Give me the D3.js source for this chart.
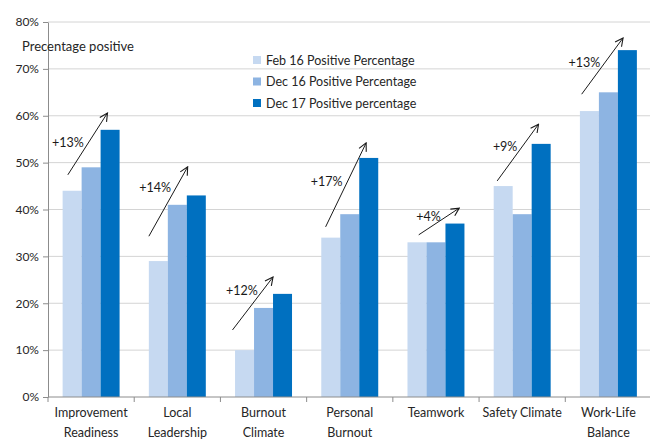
<!DOCTYPE html>
<html>
<head>
<meta charset="utf-8">
<script src="https://cdn.jsdelivr.net/npm/d3@7"></script>
<style>
  html, body { margin: 0; padding: 0; background: #fff; }
  svg { display: block; font-family: Lato, "Open Sans", sans-serif; }
</style>
</head>
<body>
<svg id="chart" width="650" height="441"></svg>
<script>
// Survey categories (two-line labels)
const categories = [
  ["Improvement", "Readiness"],
  ["Local", "Leadership"],
  ["Burnout", "Climate"],
  ["Personal", "Burnout"],
  ["Teamwork"],
  ["Safety Climate"],
  ["Work-Life", "Balance"]
];
const seriesNames = ["Feb 16 Positive Percentage", "Dec 16 Positive Percentage", "Dec 17 Positive percentage"];
const feb16 = [44, 29, 10, 34, 33, 45, 61];
const dec16 = [49, 41, 19, 39, 33, 39, 65];
const dec17 = [57, 43, 22, 51, 37, 54, 74];
const yTicks = [0, 10, 20, 30, 40, 50, 60, 70, 80];

// Change annotations: label, arrow start / end level (in %)
const changeLabels = ["+13%", "+14%", "+12%", "+17%", "+4%", "+9%", "+13%"];
const arrowFrom = [47.4, 34.3, 14.3, 36.3, 34.6, 46.1, 64.6];
const arrowTo   = [60.6, 49.1, 25.6, 54.2, 40.3, 58.2, 76.6];

const colors = ["#c6d9f1", "#8db4e2", "#0070c0"];
const series = [feb16, dec16, dec17];

const svg = d3.select("#chart");
const margin = { left: 48, right: 0, top: 22, bottom: 44 };
const width = 651.5, height = 441;

const x = d3.scaleBand().domain(d3.range(categories.length)).range([margin.left, width]).paddingInner(0).paddingOuter(0);
const inner = d3.scaleBand().domain(d3.range(series.length)).range([0, x.bandwidth()]).paddingOuter(0.77).paddingInner(0);
const y = d3.scaleLinear().domain([0, 80]).range([height - margin.bottom, margin.top]);

// Gridlines
svg.append("g")
  .selectAll("line").data(yTicks.filter(d => d > 0)).join("line")
  .attr("x1", margin.left).attr("x2", 650)
  .attr("y1", d => y(d)).attr("y2", d => y(d))
  .attr("stroke", "#d4d4d4").attr("stroke-width", 1);

// Bars
const groups = svg.append("g").selectAll("g").data(categories).join("g")
  .attr("transform", (d, i) => `translate(${x(i)},0)`);
groups.selectAll("rect")
  .data((d, i) => series.map((s, k) => ({ k, v: s[i] })))
  .join("rect")
  .attr("x", d => inner(d.k))
  .attr("width", inner.bandwidth())
  .attr("y", d => y(d.v))
  .attr("height", d => y(0) - y(d.v))
  .attr("fill", d => colors[d.k]);

// Y axis
const yAxis = svg.append("g")
  .attr("transform", `translate(${margin.left},0)`)
  .call(d3.axisLeft(y).tickValues(yTicks).tickFormat(d => d + "%").tickSize(5).tickSizeOuter(0));
yAxis.select(".domain").attr("stroke", "#8c8c8c");
yAxis.selectAll(".tick line").attr("stroke", "#8c8c8c");
yAxis.selectAll(".tick text").attr("fill", "#262626").attr("font-size", 12).attr("x", -9)
  .attr("font-family", "Lato, sans-serif");

// X axis with ticks at category boundaries
const xAxisG = svg.append("g").attr("transform", `translate(0,${y(0)})`);
xAxisG.append("line").attr("x1", margin.left).attr("x2", 650).attr("y1", 0).attr("y2", 0)
  .attr("stroke", "#8c8c8c");
xAxisG.selectAll("line.tk").data(d3.range(categories.length + 1)).join("line")
  .attr("class", "tk")
  .attr("x1", i => margin.left + i * x.step()).attr("x2", i => margin.left + i * x.step())
  .attr("y1", 0).attr("y2", 5).attr("stroke", "#8c8c8c");
const xl = xAxisG.selectAll("text").data(categories).join("text")
  .attr("text-anchor", "middle")
  .attr("font-size", 12.5)
  .attr("fill", "#262626")
  .attr("transform", (d, i) => `translate(${x(i) + x.bandwidth() / 2},0)`);
xl.selectAll("tspan").data(d => d).join("tspan")
  .attr("x", 0).attr("y", (d, j) => 20 + j * 20)
  .text(d => d);

// Axis title
svg.append("text").attr("x", 22).attr("y", 51)
  .attr("font-size", 13).attr("fill", "#262626")
  .text("Precentage positive");

// Legend
const legend = svg.append("g").attr("transform", "translate(253,60)");
const li = legend.selectAll("g").data(seriesNames).join("g")
  .attr("transform", (d, i) => `translate(0,${i * 21.5})`);
li.append("rect").attr("x", 0).attr("y", -4).attr("width", 8).attr("height", 8)
  .attr("fill", (d, i) => colors[i]);
li.append("text").attr("x", 13).attr("y", 4.5).attr("font-size", 12.5).attr("fill", "#262626")
  .text(d => d);

// Change arrows
svg.append("defs").append("marker")
  .attr("id", "head").attr("viewBox", "0 0 10 10").attr("refX", 9).attr("refY", 5)
  .attr("markerWidth", 10).attr("markerHeight", 10).attr("markerUnits", "userSpaceOnUse")
  .attr("orient", "auto")
  .append("path").attr("d", "M1,1 L9,5 L1,9").attr("fill", "none").attr("stroke", "#1a1a1a").attr("stroke-width", 1.1);

const arrowStart = [0.23, 0.17, 0.14, 0.22, 0.30, 0.21, 0.19];
const arrowEnd   = [0.69, 0.62, 0.61, 0.69, 0.77, 0.69, 0.67];
const labelAt    = [0.53, 0.70, 0.75, 0.54, 0.67, 0.61, 0.57];

const ann = svg.append("g").selectAll("g").data(changeLabels).join("g");
ann.append("line")
  .attr("x1", (d, i) => x(i) + arrowStart[i] * x.bandwidth())
  .attr("y1", (d, i) => y(arrowFrom[i]))
  .attr("x2", (d, i) => x(i) + arrowEnd[i] * x.bandwidth())
  .attr("y2", (d, i) => y(arrowTo[i]))
  .attr("stroke", "#1a1a1a").attr("stroke-width", 1)
  .attr("marker-end", "url(#head)");
ann.append("text")
  .attr("text-anchor", "end").attr("font-size", 12.5).attr("fill", "#1a1a1a")
  .attr("x", (d, i) => {
    const x1 = x(i) + arrowStart[i] * x.bandwidth(), x2 = x(i) + arrowEnd[i] * x.bandwidth();
    return x1 + (x2 - x1) * labelAt[i] - 5;
  })
  .attr("y", (d, i) => {
    const y1 = y(arrowFrom[i]), y2 = y(arrowTo[i]);
    return y1 + (y2 - y1) * labelAt[i] + 4.5;
  })
  .text(d => d);
</script>
</body>
</html>
